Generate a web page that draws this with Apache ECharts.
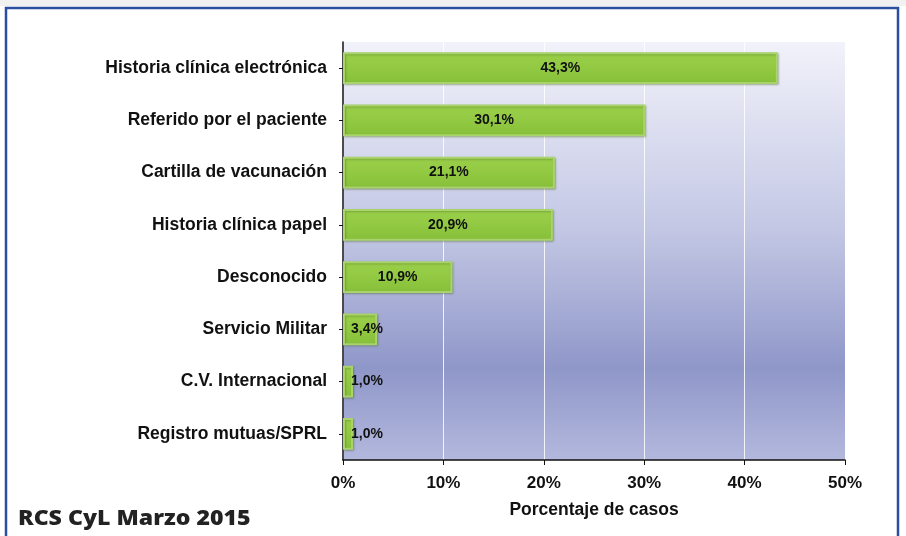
<!DOCTYPE html>
<html>
<head>
<meta charset="utf-8">
<script src="https://cdn.jsdelivr.net/npm/echarts@6/dist/echarts.min.js"></script>
<style>
html, body { margin: 0; padding: 0; background: #fff; }
#chart1 { width: 906px; height: 536px; }
</style>
</head>
<body>
<div id="chart1"></div>
<script>
// categorias (de arriba abajo)
var categorias = [
	"Historia clínica electrónica",
	"Referido por el paciente",
	"Cartilla de vacunación",
	"Historia clínica papel",
	"Desconocido",
	"Servicio Militar",
	"C.V. Internacional",
	"Registro mutuas/SPRL"
];

// porcentaje de casos
var porcentajes = [43.3, 30.1, 21.1, 20.9, 10.9, 3.4, 1.0, 1.0];

var chart = echarts.init(document.getElementById("chart1"));

var fuente = "'Liberation Sans', Arial, sans-serif";

//datos con etiqueta: las barras cortas llevan la etiqueta a la izquierda
var datos = porcentajes.map(function (v) {
	var d = { value: v };
	if (v < 5) {
		d.label = { position: "insideLeft", distance: 8 };
	}
	return d;
});

var option = {
	backgroundColor: "#fff",
	animation: false,
	grid: {
		left: 343,
		right: 61,
		top: 42,
		bottom: 76,
		show: true,
		borderWidth: 0,
		backgroundColor: new echarts.graphic.LinearGradient(0, 0, 0, 1, [
			{ offset: 0, color: "#f1f2fa" },
			{ offset: 0.45, color: "#c3c7e4" },
			{ offset: 0.78, color: "#8f97c9" },
			{ offset: 1, color: "#b3b8dd" }
		])
	},
	xAxis: {
		type: "value",
		min: 0,
		max: 50,
		interval: 10,
		name: "Porcentaje de casos",
		nameLocation: "middle",
		nameGap: 41,
		nameTextStyle: { fontFamily: fuente, fontWeight: "bold", fontSize: 17.5, color: "#111" },
		axisLine: { show: true, lineStyle: { color: "#111", width: 1.5 } },
		axisTick: { show: true, length: 5, lineStyle: { color: "#111" } },
		axisLabel: {
			margin: 15,
			fontFamily: fuente,
			fontWeight: "bold",
			fontSize: 17,
			color: "#111",
			formatter: function (v) { return v + "%"; }
		},
		splitLine: { show: true, lineStyle: { color: "rgba(255,255,255,0.85)", width: 1 } }
	},
	yAxis: {
		type: "category",
		data: categorias,
		inverse: true,
		axisLine: { show: true, lineStyle: { color: "#111", width: 1.5 } },
		axisTick: { show: true, length: 4, alignWithLabel: true, lineStyle: { color: "#111" } },
		axisLabel: {
			margin: 16,
			fontFamily: fuente,
			fontWeight: "bold",
			fontSize: 17.5,
			color: "#111",
			padding: [5, 0, 0, 0]
		}
	},
	series: [{
		type: "bar",
		data: datos,
		barWidth: "61%",
		itemStyle: {
			color: new echarts.graphic.LinearGradient(0, 0, 0, 1, [
				{ offset: 0, color: "#9bcf4b" },
				{ offset: 0.5, color: "#92c942" },
				{ offset: 1, color: "#86bf3a" }
			]),
			borderColor: "#a9d46c",
			borderWidth: 2,
			shadowColor: "rgba(60,90,20,0.35)",
			shadowBlur: 2,
			shadowOffsetX: 1,
			shadowOffsetY: 1
		},
		label: {
			show: true,
			position: "inside",
			fontFamily: fuente,
			fontWeight: "bold",
			fontSize: 14,
			color: "#111",
			formatter: function (p) { return p.value.toFixed(1).replace(".", ",") + "%"; }
		}
	}],
	graphic: [
		{
			type: "rect",
			shape: { x: 0, y: 0, width: 906, height: 6 },
			style: { fill: "#f1f1f1" },
			silent: true
		},
		{
			type: "rect",
			shape: { x: 6, y: 8, width: 892, height: 540 },
			style: { fill: "none", stroke: "#2b4ea0", lineWidth: 2.5 },
			silent: true
		},
		{
			type: "text",
			x: 18,
			y: 509,
			scaleX: 1.1,
			style: {
				text: "RCS CyL Marzo 2015",
				fontFamily: "'Open Sans', sans-serif",
				fontWeight: 800,
				fontSize: 21,
				fill: "#222"
			},
			silent: true
		}
	]
};

window.onload = function () {
	chart.setOption(option);
};
</script>
</body>
</html>
